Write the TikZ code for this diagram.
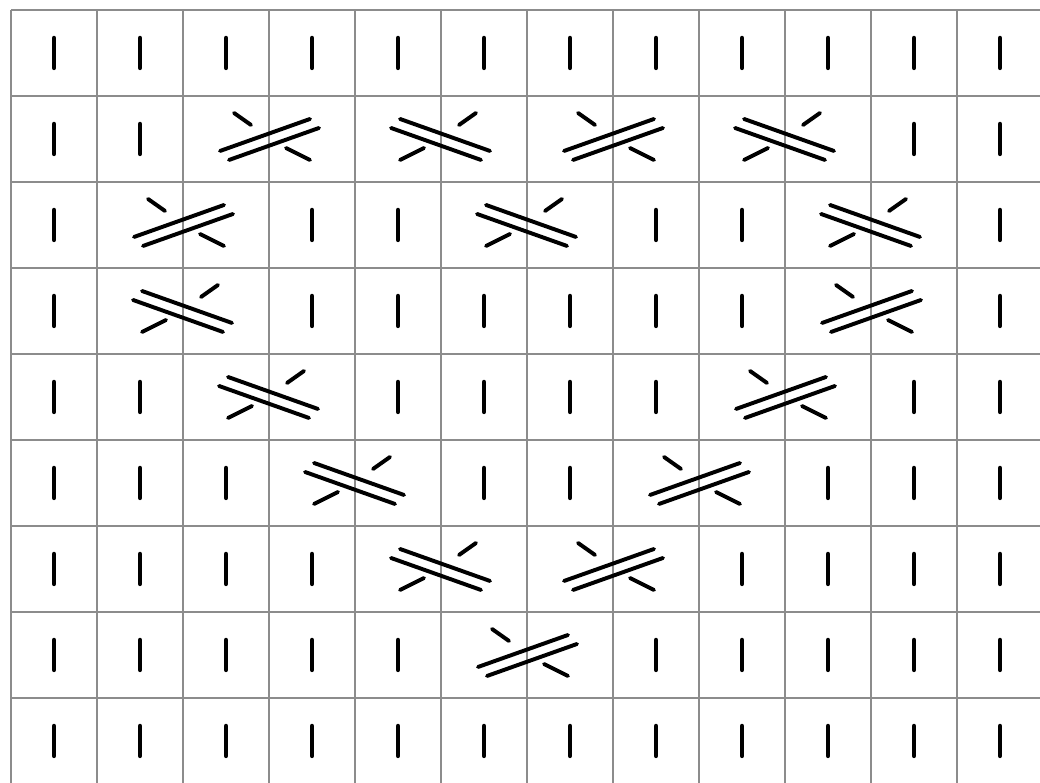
\documentclass[tikz,border=0pt]{standalone}
\usepackage{tikz}
\tikzset{
  gridline/.style={draw=black!45,line width=1.2pt},
  knitbar/.style={line width=3.2pt,line cap=round},
  cableline/.style={line width=2.8pt,line cap=round}
}
% knit stitch in column #1, row #2 (rows counted from the top)
\newcommand{\knit}[2]{\draw[knitbar] (#1+0.5,8.5-#2+0.174) -- (#1+0.5,8.5-#2-0.174);}
% cable over columns #1 and #1+1, row #2: rising strand on top
\newcommand{\cableRise}[2]{%
  \begin{scope}[shift={(#1+1,8.5-#2)},x=0.025cm,y=-0.025cm]
    \draw[cableline] (-49,12) -- (41,-20) (-40,21) -- (50,-11);
    \draw[cableline] (-35,-26) -- (-18,-14) (17,9) -- (41,21);
  \end{scope}}
% cable over columns #1 and #1+1, row #2: falling strand on top
\newcommand{\cableFall}[2]{%
  \begin{scope}[shift={(#1+1,8.5-#2)},x=0.025cm,y=-0.025cm]
    \draw[cableline] (-41,-20) -- (49,12) (-50,-11) -- (40,21);
    \draw[cableline] (35,-26) -- (18,-14) (-17,9) -- (-41,21);
  \end{scope}}

\begin{document}
\begin{tikzpicture}[x=2.15cm,y=2.15cm]
  \useasboundingbox (-0.128,0.012) rectangle (11.965,9.116);
  \fill[white] (-0.128,0.012) rectangle (11.965,9.116);

  % Chart grid: 12 stitches, 9 rows
  \foreach \c in {0,...,12}
    \draw[gridline] (\c,0) -- (\c,9);
  \foreach \r in {0,...,9}
    \draw[gridline] (0,\r) -- (12,\r);

  % Row 1
  \foreach \c in {0,...,11} \knit{\c}{0};

  % Row 2
  \foreach \c in {0,1,10,11} \knit{\c}{1};
  \cableRise{2}{1}
  \cableFall{4}{1}
  \cableRise{6}{1}
  \cableFall{8}{1}

  % Row 3
  \foreach \c in {0,3,4,7,8,11} \knit{\c}{2};
  \cableRise{1}{2}
  \cableFall{5}{2}
  \cableFall{9}{2}

  % Row 4
  \foreach \c in {0,3,4,5,6,7,8,11} \knit{\c}{3};
  \cableFall{1}{3}
  \cableRise{9}{3}

  % Row 5
  \foreach \c in {0,1,4,5,6,7,10,11} \knit{\c}{4};
  \cableFall{2}{4}
  \cableRise{8}{4}

  % Row 6
  \foreach \c in {0,1,2,5,6,9,10,11} \knit{\c}{5};
  \cableFall{3}{5}
  \cableRise{7}{5}

  % Row 7
  \foreach \c in {0,1,2,3,8,9,10,11} \knit{\c}{6};
  \cableFall{4}{6}
  \cableRise{6}{6}

  % Row 8
  \foreach \c in {0,1,2,3,4,7,8,9,10,11} \knit{\c}{7};
  \cableRise{5}{7}

  % Row 9
  \foreach \c in {0,...,11} \knit{\c}{8};
\end{tikzpicture}
\end{document}
